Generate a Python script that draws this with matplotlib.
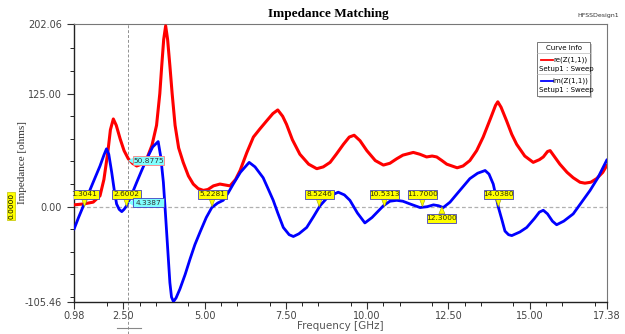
import matplotlib.pyplot as plt
from matplotlib.patches import Rectangle, Polygon

# data (GHz, ohms)
re_freq = [0.98, 1.27, 1.57, 1.78, 1.90, 2.02, 2.10, 2.19, 2.28, 2.40, 2.52, 2.65, 2.78, 2.91, 3.05,
           3.22, 3.38, 3.52, 3.62, 3.68, 3.74, 3.80, 3.86, 3.93, 4.00, 4.09, 4.20, 4.34, 4.50, 4.65,
           4.80, 4.96, 5.10, 5.27, 5.47, 5.78, 5.95, 6.09, 6.30, 6.50, 6.70, 6.91, 7.10, 7.25, 7.40,
           7.52, 7.70, 7.93, 8.20, 8.45, 8.65, 8.86, 9.05, 9.27, 9.45, 9.60, 9.78, 9.99, 10.25, 10.50,
           10.70, 10.91, 11.10, 11.42, 11.62, 11.83, 12.00, 12.14, 12.30, 12.45, 12.77, 12.95, 13.16,
           13.37, 13.57, 13.80, 13.95, 14.02, 14.12, 14.29, 14.45, 14.60, 14.85, 15.11, 15.30, 15.42,
           15.55, 15.63, 15.75, 15.93, 16.15, 16.34, 16.55, 16.70, 16.88, 17.06, 17.25, 17.38]
re_z = [2, 3, 5, 12, 30, 60, 85, 97, 90, 75, 62, 53, 48, 45, 47,
        53, 68, 90, 125, 156, 185, 200, 185, 156, 125, 90, 65, 49, 34, 25,
        20, 18, 19, 23, 25, 23, 30, 40, 60, 77, 86, 95, 103, 107, 100,
        91, 74, 58, 47, 42, 44, 49, 58, 69, 77, 79, 73, 62, 51, 46,
        48, 53, 57, 60, 58, 55, 56, 55, 51, 47, 43, 45, 51,
        62, 77, 98, 112, 116, 110, 95, 80, 69, 56, 49, 52, 55,
        61, 62, 56, 47, 38, 32, 27, 26, 27, 31, 38, 46]

im_freq = [0.98, 1.12, 1.27, 1.42, 1.57, 1.78, 1.90, 1.98, 2.05, 2.14, 2.22, 2.29, 2.37, 2.45, 2.52,
           2.60, 2.75, 2.91, 3.05, 3.22, 3.40, 3.57, 3.65, 3.73, 3.78, 3.83, 3.88, 3.93, 3.98, 4.04,
           4.12, 4.24, 4.40, 4.55, 4.70, 4.86, 5.05, 5.22, 5.40, 5.57, 5.72, 5.88, 6.10, 6.37, 6.55,
           6.80, 6.95, 7.11, 7.25, 7.42, 7.60, 7.73, 7.90, 8.14, 8.35, 8.55, 8.80, 9.11, 9.30, 9.47,
           9.70, 9.93, 10.15, 10.50, 10.70, 10.91, 11.10, 11.32, 11.63, 11.85, 12.04, 12.20, 12.34,
           12.55, 12.76, 13.16, 13.40, 13.63, 13.75, 13.88, 13.96, 14.04, 14.15, 14.24, 14.35, 14.45,
           14.70, 14.91, 15.15, 15.30, 15.42, 15.55, 15.70, 15.83, 16.05, 16.34, 16.60, 16.86, 17.10, 17.38]
im_z = [-25, -12, 1, 14, 27, 45, 57, 64, 58, 38, 18, 3, -3, -5.5, -3,
        1, 13, 27, 39, 53, 66, 72, 55, 27, 0, -28, -56, -84, -100, -105,
        -101, -91, -75, -58, -42, -28, -12, -1, 4, 7, 15, 25, 38, 49, 44,
        32, 20, 7, -7, -23, -31, -33, -30, -23, -11, 1, 11, 16, 13, 7,
        -7, -18, -12, 1, 6, 7, 6, 3, -1, 0, 2, 1, -1,
        5, 14, 31, 37, 40, 36, 25, 12, -1, -15, -27, -31, -32,
        -28, -23, -13, -6, -4, -8, -16, -20, -16, -8, 5, 18, 32, 52]

marker_freqs = [1.3041, 2.6002, 5.2281, 8.5246, 10.5313, 11.7000, 12.3000, 14.0380]
marker_below = [False, False, False, False, False, False, True, False]
cursor_freq = 2.65
cursor_values = [50.8775, 4.3387]

xmin, xmax = 0.98, 17.38
ymin, ymax = -105.46, 202.06

fig = plt.figure(figsize=(6.25, 3.34), dpi=100)
ax = fig.add_axes([74/625, 1-302/334, 533/625, 278/334])

ax.plot(re_freq, re_z, color='#ff0000', lw=2.2, solid_capstyle='round', zorder=3)
ax.plot(im_freq, im_z, color='#0000ff', lw=2.0, solid_capstyle='round', zorder=3)

ax.set_xlim(xmin, xmax)
ax.set_ylim(ymin, ymax)
ax.axhline(0, color='#b0b0b0', lw=0.9, ls=(0, (3, 2)), zorder=1)
ax.plot([cursor_freq, cursor_freq], [ymin - 35, ymax], color='#909090', lw=0.7,
        ls=(0, (3, 2)), clip_on=False, zorder=1)

ax.set_xticks([0.98, 2.5, 5.0, 7.5, 10.0, 12.5, 15.0, 17.38])
ax.set_xticklabels(['0.98', '2.50', '5.00', '7.50', '10.00', '12.50', '15.00', '17.38'])
ax.set_xticks([2.0, 3.0, 3.5, 4.5, 5.5, 6.0, 7.0, 8.0, 8.5, 9.5, 10.5, 11.0, 12.0, 13.0, 13.5,
               14.5, 15.5, 16.0, 17.0], minor=True)
ax.set_yticks([ymin, 0, 125, ymax])
ax.set_yticklabels(['-105.46', '0.00', '125.00', '202.06'])
ax.set_yticks([-100, -75, -50, -25, 25, 50, 75, 100, 150, 175], minor=True)
ax.tick_params(labelsize=7, colors='#333333', length=5, width=0.8, direction='out')
ax.tick_params(axis='x', pad=1.5)
ax.tick_params(which='minor', length=3, width=0.6)
for lab in ax.get_xticklabels() + ax.get_yticklabels():
    lab.set_color('#444444')
for s in ['top', 'right']:
    ax.spines[s].set_color('#777777')
    ax.spines[s].set_linewidth(0.8)
for s in ['left', 'bottom']:
    ax.spines[s].set_color('#222222')
    ax.spines[s].set_linewidth(1.0)

ax.set_xlabel('Frequency [GHz]', fontsize=7.5, color='#555555', labelpad=1)
ax.xaxis.set_label_coords(0.5, -0.068)
ax.set_ylabel('Impedance [ohms]', fontsize=8, family='Liberation Serif', color='#333333')
ax.yaxis.set_label_coords(-0.088, 0.5)

fig.text(0.525, 0.958, 'Impedance Matching', ha='center', va='center', fontsize=9.5,
         fontweight='bold', family='Liberation Serif')
fig.text(0.99, 0.955, 'HFSSDesign1', ha='right', va='center', fontsize=4.5, color='#333333')

# yellow markers
sx = 533 / (xmax - xmin)  # px per GHz
sy = 278 / (ymax - ymin)
def px2data_w(w):
    return w / sx
def px2data_h(h):
    return h / sy

for f, below in zip(marker_freqs, marker_below):
    w, h = px2data_w(29), px2data_h(9)
    if below:
        by = -px2data_h(7) - h
        tri = [[f, 0], [f - px2data_w(3), -px2data_h(7)], [f + px2data_w(3), -px2data_h(7)]]
    else:
        by = px2data_h(8)
        tri = [[f, 0], [f - px2data_w(3), px2data_h(8)], [f + px2data_w(3), px2data_h(8)]]
    ax.add_patch(Polygon(tri, closed=True, fc='#ffff00', ec='#a0a000', lw=0.4, zorder=5))
    ax.add_patch(Rectangle((f - w/2, by), w, h, fc='#ffff00', ec='#4040c0', lw=0.6, zorder=6))
    ax.text(f, by + h/2, f'{f:.4f}', ha='center', va='center', fontsize=5.3, zorder=7,
            color='#333300')

# cyan cursor readouts
for val, ec in zip(cursor_values, ['#ff8080', '#4040c0']):
    x0 = cursor_freq + px2data_w(5)
    w, h = px2data_w(31), px2data_h(9)
    tri = [[cursor_freq, val], [x0, val + h*0.35], [x0, val - h*0.35]]
    ax.add_patch(Polygon(tri, closed=True, fc='#80ffff', ec='none', zorder=5))
    ax.add_patch(Rectangle((x0, val - h/2), w, h, fc='#80ffff', ec=ec, lw=0.6, zorder=6))
    ax.text(x0 + w/2, val, f'{val:.4f}', ha='center', va='center', fontsize=5.3, zorder=7,
            color='#333333')

# left zero label
fig.text(11/625, 1-206/334, '0.0000', rotation=90, ha='center', va='center', fontsize=5.3,
         bbox=dict(boxstyle='square,pad=0.15', fc='#ffff00', ec='#c0c000', lw=0.5))
fig.add_artist(plt.Line2D([117/625, 141/625], [1-328/334, 1-328/334], color='#888888', lw=0.8))

# curve info box
lx, ly, lw_, lh = 537/625, 1-96/334, 53/625, 54/334
fig.add_artist(Rectangle((lx + 2/625, ly - 2/334), lw_, lh, fc='#c8c8c8', ec='none',
                         transform=fig.transFigure))
fig.add_artist(Rectangle((lx, ly), lw_, lh, fc='white', ec='#777777', lw=0.7,
                         transform=fig.transFigure))
fig.text(lx + lw_/2, 1-48/334, 'Curve Info', ha='center', va='center', fontsize=5)
fig.add_artist(plt.Line2D([lx, lx + lw_], [1-53/334, 1-53/334], color='#bbbbbb', lw=0.5))
fig.add_artist(plt.Line2D([lx, lx + lw_], [1-74/334, 1-74/334], color='#bbbbbb', lw=0.5))
for yy, col, name in [(60, '#ff0000', 're(Z(1,1))'), (81, '#0000ff', 'im(Z(1,1))')]:
    fig.add_artist(plt.Line2D([541/625, 553/625], [1-yy/334, 1-yy/334], color=col, lw=1.3))
    fig.text(588/625, 1-yy/334, name, ha='right', va='center', fontsize=5)
    fig.text(539/625, 1-(yy+9)/334, 'Setup1 : Sweep', ha='left', va='center', fontsize=5)

fig.savefig('out.png', dpi=100)
